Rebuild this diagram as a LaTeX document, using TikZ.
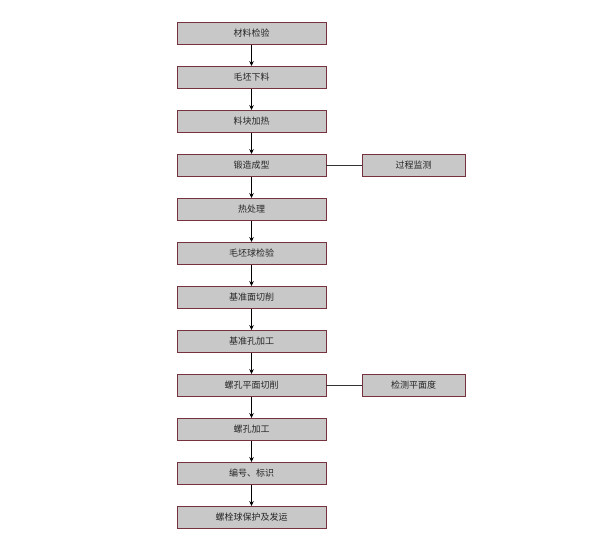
\documentclass[tikz,border=0pt]{standalone}
\usepackage{fontspec}
\newfontfamily\cjk{Noto Sans CJK SC}
\usetikzlibrary{arrows.meta}
\definecolor{boxfill}{RGB}{200,200,200}
\definecolor{boxline}{RGB}{120,50,62}
\begin{document}
\begin{tikzpicture}[x=1pt,y=-1pt,
  mainbox/.style={draw=boxline,fill=boxfill,line width=0.9pt,minimum width=149pt,minimum height=22pt,inner sep=0pt,font=\cjk\fontsize{9}{9}\selectfont,text=black!85},
  sidebox/.style={mainbox,minimum width=103pt},
  flow/.style={-{Stealth[length=5pt,width=4.5pt]},line width=1.1pt,black},
  link/.style={line width=0.7pt,black!80}]
\useasboundingbox (0,0) rectangle (600,541);
\node[mainbox] (n1) at (251.5,33.5) {材料检验};
\node[mainbox] (n2) at (251.5,77.5) {毛坯下料};
\node[mainbox] (n3) at (251.5,121.5) {料块加热};
\node[mainbox] (n4) at (251.5,165.5) {锻造成型};
\node[mainbox] (n5) at (251.5,209.5) {热处理};
\node[mainbox] (n6) at (251.5,253.5) {毛坯球检验};
\node[mainbox] (n7) at (251.5,297.5) {基准面切削};
\node[mainbox] (n8) at (251.5,341.5) {基准孔加工};
\node[mainbox] (n9) at (251.5,385.5) {螺孔平面切削};
\node[mainbox] (n10) at (251.5,429.5) {螺孔加工};
\node[mainbox] (n11) at (251.5,473.5) {编号、标识};
\node[mainbox] (n12) at (251.5,517.5) {螺栓球保护及发运};
\node[sidebox] (s1) at (413.5,165.5) {过程监测};
\node[sidebox] (s2) at (413.5,385.5) {检测平面度};
\foreach \a/\b in {n1/n2,n2/n3,n3/n4,n4/n5,n5/n6,n6/n7,n7/n8,n8/n9,n9/n10,n10/n11,n11/n12}
  \draw[flow] (\a) -- (\b);
\draw[link] (n4) -- (s1);
\draw[link] (n9) -- (s2);
\end{tikzpicture}
\end{document}
